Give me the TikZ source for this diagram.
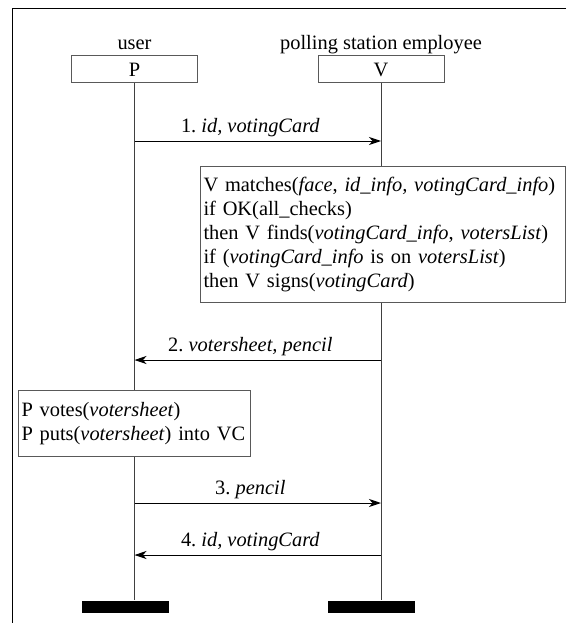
\documentclass[tikz,border=0pt]{standalone}
\usepackage{fontspec}
\setmainfont{Liberation Serif}
\usetikzlibrary{arrows.meta,positioning}
\frenchspacing

\begin{document}
\begin{tikzpicture}[x=1pt, y=-1pt,
    every node/.style={font=\fontsize{20.4}{24}\selectfont},
    actor/.style={draw=black!65, line width=1pt, minimum width=126pt, minimum height=27pt, inner sep=0pt},
    role/.style={inner sep=0pt, text depth=0pt},
    lifeline/.style={draw=black!75, line width=1pt},
    msg/.style={line width=1pt, -{Stealth[length=12pt, width=8pt, inset=3.5pt]}},
    note/.style={draw=black!65, line width=1pt, fill=white, align=left, inner ysep=0pt, inner xsep=3pt, anchor=north west},
    endbar/.style={fill=black, minimum width=87pt, minimum height=12pt, inner sep=0pt}]
      \useasboundingbox (0,0) rectangle (566,623);
      \draw[line width=1.2pt] (566,8.5) -- (12.5,8.5) -- (12.5,623);
      \node[actor] (P) at (134.5,69.5) {P};
      \node[actor] (V) at (381,69.5) {V};
      \node[role, above=6pt of P] (user) {user};
      \node[role, above=6pt of V] (employee) {polling station employee};
      \node[endbar] (Pbar) at (125.5,606.5) {};
      \node[endbar] (Vbar) at (371.5,606.5) {};
      \draw[lifeline] (P.south) -- (P.south |- Pbar.north);
      \draw[lifeline] (V.south) -- (V.south |- Vbar.north);
      \node[note, text width=359pt, minimum height=136pt] (checks) at (200,166) {V matches(\textit{face}, \textit{id\_info, votingCard\_info})\\
        if OK(all\_checks)\\
        then V finds(\textit{votingCard\_info}, \textit{votersList})\\
        if (\textit{votingCard\_info} is on \textit{votersList})\\
        then V signs(\textit{votingCard})};
      \node[note, text width=226pt, minimum height=66pt] (votes) at (18,390) {P votes(\textit{votersheet})\\
        P puts(\textit{votersheet}) into VC};
      \foreach \n/\y in {1/141, 2/360, 3/503, 4/555} {
        \coordinate (p\n) at (P.south |- 0,\y);
        \coordinate (v\n) at (V.south |- 0,\y);
      }
      \draw[msg] (p1) -- node[above, pos=0.47] {1. \textit{id, votingCard}} (v1);
      \draw[msg] (v2) -- node[above, pos=0.53] {2. \textit{votersheet, pencil}} (p2);
      \draw[msg] (p3) -- node[above, pos=0.47] {3. \textit{pencil}} (v3);
      \draw[msg] (v4) -- node[above, pos=0.53] {4. \textit{id, votingCard}} (p4);
\end{tikzpicture}
\end{document}
